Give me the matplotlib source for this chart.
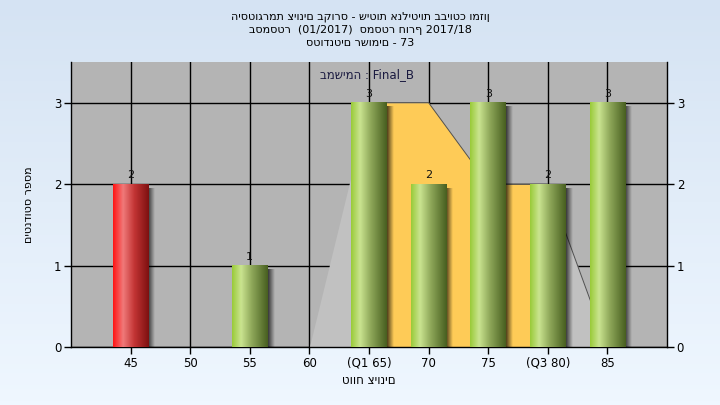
import matplotlib
matplotlib.use("Agg")
import matplotlib.pyplot as plt
import numpy as np
from matplotlib.colors import to_rgb

# נתונים
grades = [45, 50, 55, 60, 65, 70, 75, 80, 85]
tick_labels = ['45', '50', '55', '60', '(Q1 65)', '70', '75', '(Q3 80)', '85']
counts = [2, 0, 1, 0, 3, 2, 3, 2, 3]
curve = [0, 0, 0, 0, 3, 3, 2, 2, 0]   # שטח ברקע
q1_idx, q3_idx = 4, 7
pass_grade = 55

title_lines = ["היסטוגרמת ציונים בקורס - שיטות אנליטיות בביוטכ ומזון",
               "בסמסטר  (01/2017)  סמסטר חורף 2017/18",
               "סטודנטים רשומים - 73"]
task_label = "במשימה : Final_B"
xlabel = "טווח ציונים"
ylabel = "מספר סטודנטים"[::-1]

plt.rcParams['font.family'] = ['DejaVu Sans']


def gradient(stops, n=64):
    # stops: list of (pos, color)
    xs = np.linspace(0, 1, n)
    pos = [s[0] for s in stops]
    cols = np.array([to_rgb(s[1]) for s in stops])
    out = np.zeros((n, 3))
    for k in range(3):
        out[:, k] = np.interp(xs, pos, cols[:, k])
    return out


green = gradient([(0, '#9acb3a'), (0.25, '#cae490'), (0.55, '#8fa85a'), (1, '#485f20')])
red = gradient([(0, '#ff1515'), (0.28, '#f07a7a'), (0.6, '#c23434'), (1, '#7e1010')])

fig = plt.figure(figsize=(7.2, 4.05), dpi=100)

# רקע מדורג
bg = fig.add_axes([0, 0, 1, 1], zorder=-10)
bgrad = gradient([(0, '#d5e3f3'), (1, '#eff7ff')], 100)
bg.imshow(bgrad[:, np.newaxis, :], aspect='auto', extent=[0, 1, 0, 1], origin='upper')
bg.axis('off')

ax = fig.add_axes([0.0986, 0.143, 0.8278, 0.704])
ax.set_facecolor('#b4b4b4')
x = np.arange(len(grades))

ax.fill_between(x, curve, color='#c1c1c1', zorder=1, linewidth=0)
ax.fill_between(x[q1_idx:q3_idx + 1], curve[q1_idx:q3_idx + 1], color='#fecb57', zorder=1.2, linewidth=0)
ax.plot(x[q1_idx:], curve[q1_idx:], color='#505050', lw=0.7, zorder=1.3)

w = 0.6
shadow = np.zeros((1, 32, 4))
shadow[0, :, 3] = np.linspace(0.7, 0, 32)
for i, v in enumerate(counts):
    if v <= 0:
        continue
    g = red if grades[i] < pass_grade else green
    ax.imshow(shadow, extent=[x[i] + w / 2, x[i] + w / 2 + 0.11, 0, v - 0.05],
              aspect='auto', zorder=2, interpolation='bilinear')
    ax.imshow(g[np.newaxis, :, :], extent=[x[i] - w / 2, x[i] + w / 2, 0, v],
              aspect='auto', zorder=3, interpolation='bilinear')
    ax.text(x[i], v + 0.05, str(v), ha='center', va='bottom', fontsize=8, color='#111111', zorder=4)

ax.set_xlim(-1, 9)
ax.set_ylim(0, 3.5)
ax.set_xticks(x)
ax.set_xticklabels(tick_labels)
ax.set_yticks([0, 1, 2, 3])
ax.set_axisbelow(True)
ax.grid(True, color='black', linewidth=1)
ax.tick_params(direction='out', length=5, width=1, labelsize=8.5, colors='black',
               right=True, labelright=True, pad=2)
ax.spines['top'].set_visible(False)
for s in ['left', 'right', 'bottom']:
    ax.spines[s].set_linewidth(1)

ax.set_xlabel(xlabel, fontsize=8.5, labelpad=3)
ax.set_ylabel(ylabel, fontsize=8, labelpad=14)
ax.text(0.497, 0.955, task_label, transform=ax.transAxes, ha='center', va='center',
        fontsize=8.5, color='#1a1a40', zorder=5)

for j, t in enumerate(title_lines):
    fig.text(0.5, 0.958 - j * 0.032, t, ha='center', va='center', fontsize=8)

fig.savefig('out.png', dpi=100)
